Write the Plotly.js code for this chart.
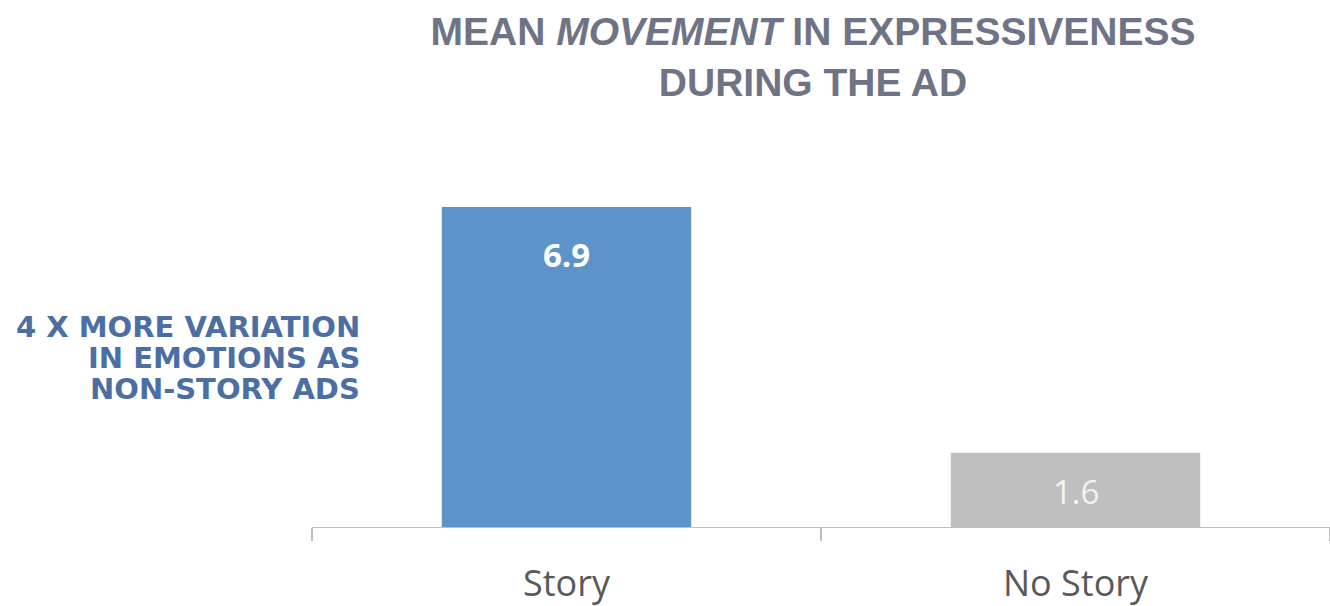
<!DOCTYPE html>
<html>
<head>
<meta charset="utf-8">
<script src="https://cdn.plot.ly/plotly-3.0.1.min.js"></script>
<style>
  html, body { margin: 0; padding: 0; background: #ffffff; }
  #chart { width: 1330px; height: 606px; }
</style>
</head>
<body>
<div id="chart"></div>
<script>
const categories = ["Story", "No Story"];
const values = [6.9, 1.6];
const valueLabels = ["6.9", "1.6"];
const barColors = ["#5e93c9", "#bfbfbf"];
const titleLines = ["MEAN <i>MOVEMENT</i> IN EXPRESSIVENESS", "DURING THE AD"];
const sideNoteLines = ["4 X MORE VARIATION", "IN EMOTIONS AS", "NON-STORY ADS"];

const M = { l: 312, r: 0, t: 156, b: 79 };
const W = 1330, H = 606;
const plotW = W - M.l - M.r, plotH = H - M.t - M.b;
const px2paperX = px => (px - M.l) / plotW;
const py2paperY = py => 1 - (py - M.t) / plotH;

const labelStyles = [
  { color: "#ffffff", size: 33, family: "'Open Sans', 'DejaVu Sans', sans-serif", weight: "bold", shift: -47 },
  { color: "#f2f2f2", size: 33, family: "'Open Sans', 'DejaVu Sans', sans-serif", weight: "normal", shift: -39 }
];

const trace = {
  type: "bar",
  x: categories,
  y: values,
  width: 0.49,
  marker: { color: barColors, line: { width: 0 } },
  hoverinfo: "skip"
};

const annotations = [];
categories.forEach((c, i) => {
  annotations.push({
    x: c, y: values[i], xref: "x", yref: "y",
    text: valueLabels[i], showarrow: false,
    xanchor: "center", yanchor: "middle", yshift: labelStyles[i].shift,
    font: { color: labelStyles[i].color, size: labelStyles[i].size,
            family: labelStyles[i].family, weight: labelStyles[i].weight }
  });
});

sideNoteLines.forEach((t, i) => {
  annotations.push({
    x: px2paperX(362), y: py2paperY(327 + i * 31),
    xref: "paper", yref: "paper",
    text: t, showarrow: false,
    xanchor: "right", yanchor: "middle",
    font: { color: "#4b6fa3", size: 29, family: "'DejaVu Sans', sans-serif", weight: "bold" }
  });
});

const layout = {
  width: W, height: H,
  paper_bgcolor: "#ffffff", plot_bgcolor: "#ffffff",
  margin: M,
  showlegend: false,
  title: {
    text: titleLines.join("<br>"),
    x: 813 / W, xref: "container", xanchor: "center",
    y: 1 - 45 / H, yref: "container", yanchor: "top",
    font: { family: "'Liberation Sans', Arial, sans-serif", size: 39, color: "#6f7386", weight: "bold" }
  },
  xaxis: {
    type: "category",
    showline: true, linecolor: "#bfbfbf", linewidth: 1.3,
    ticks: "outside", tickson: "boundaries", ticklen: 13, tickcolor: "#bfbfbf", tickwidth: 1.3,
    showgrid: false, zeroline: false,
    tickfont: { family: "'Open Sans', sans-serif", size: 36, color: "#595959" },
    ticklabelstandoff: 24
  },
  yaxis: {
    range: [0, 8], visible: false, showgrid: false, zeroline: false, fixedrange: true
  },
  annotations: annotations
};

Plotly.newPlot("chart", [trace], layout, { displayModeBar: false, staticPlot: true });
</script>
</body>
</html>
